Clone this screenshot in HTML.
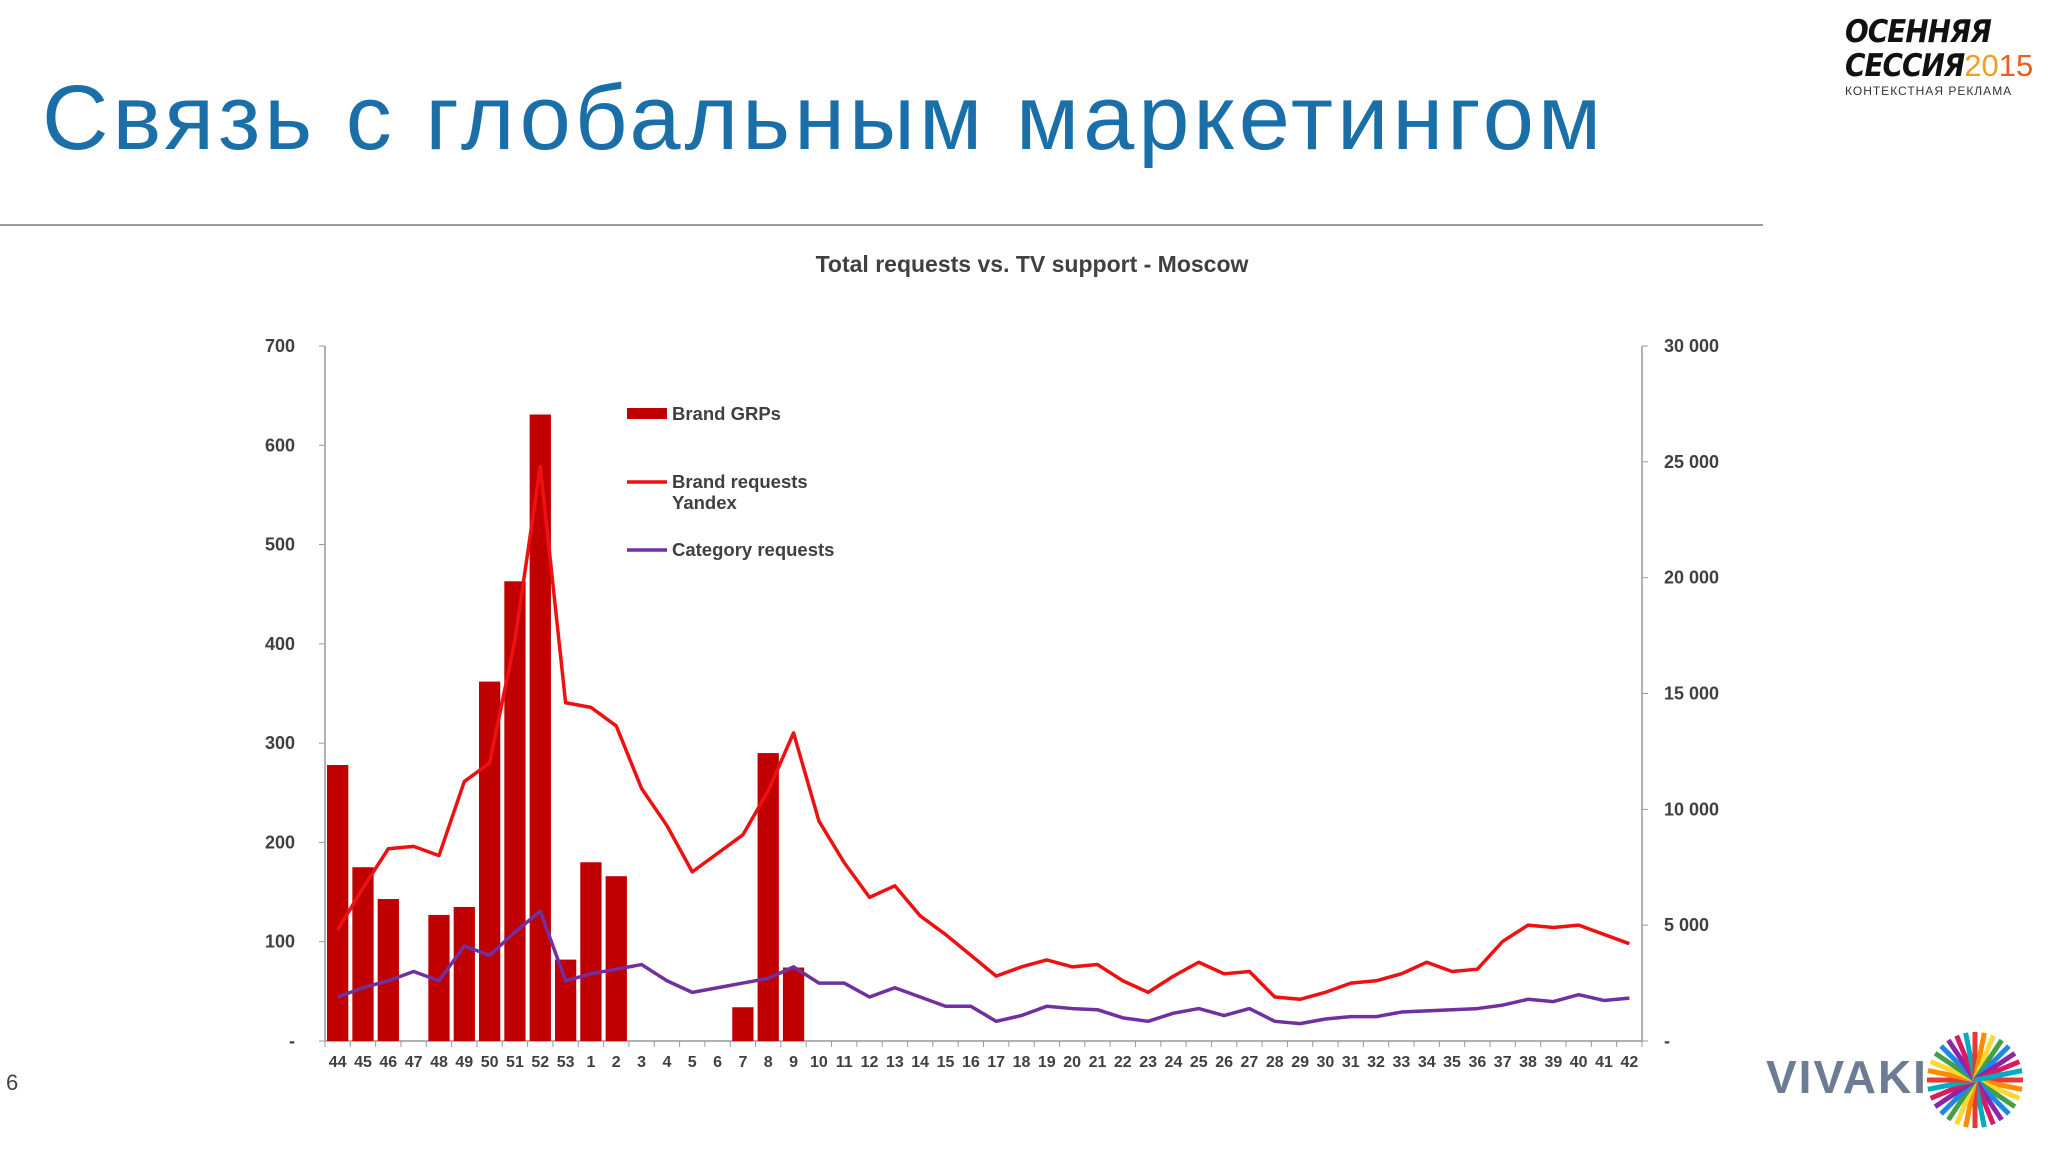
<!DOCTYPE html>
<html><head><meta charset="utf-8">
<style>
html,body{margin:0;padding:0;background:#fff;}
body{width:2048px;height:1152px;position:relative;overflow:hidden;font-family:"Liberation Sans","DejaVu Sans",sans-serif;}
#title{position:absolute;left:42px;top:66px;font-size:92px;color:#1b6fa8;letter-spacing:4px;white-space:nowrap;}
#rule{position:absolute;left:0;top:224px;width:1763px;height:2px;background:#9a9a9a;}
#logo{position:absolute;left:1845px;top:16px;}
.l1{font-family:"DejaVu Sans Condensed","Liberation Sans Narrow","Liberation Sans",sans-serif;font-style:italic;font-weight:bold;font-size:31px;line-height:33px;color:#111;letter-spacing:-1px;}
#pg{position:absolute;left:6px;top:1070px;font-size:22px;color:#444;}
#vivaki{position:absolute;left:1766px;top:1050px;font-size:46px;font-weight:bold;color:#6b7c93;letter-spacing:2px;}
</style></head>
<body>
<div id="title">Связь с глобальным маркетингом</div>
<div id="rule"></div>
<div id="logo">
 <div class="l1">ОСЕННЯЯ</div>
 <div class="l1">СЕССИЯ<span style="color:#f0a020;font-style:normal;font-weight:normal;font-family:'Liberation Sans',sans-serif;letter-spacing:0">20</span><span style="color:#e8601c;font-style:normal;font-weight:normal;font-family:'Liberation Sans',sans-serif;letter-spacing:0">15</span></div>
 <div style="font-size:12px;color:#333;letter-spacing:1px;margin-top:1px">КОНТЕКСТНАЯ РЕКЛАМА</div>
</div>
<div id="pg">6</div>
<div id="vivaki">VIVAKI</div>
<svg style="position:absolute;left:1920px;top:1025px" width="110" height="110">
 <g id="rays"></g>
</svg>
<svg id="chart" width="2048" height="1152" style="position:absolute;left:0;top:0"></svg>
<script>
const categories=["44","45","46","47","48","49","50","51","52","53","1","2","3","4","5","6","7","8","9","10","11","12","13","14","15","16","17","18","19","20","21","22","23","24","25","26","27","28","29","30","31","32","33","34","35","36","37","38","39","40","41","42"];
const grps=[278,175,143,0,127,135,362,463,631,82,180,166,0,0,0,0,34,290,74,0,0,0,0,0,0,0,0,0,0,0,0,0,0,0,0,0,0,0,0,0,0,0,0,0,0,0,0,0,0,0,0,0];
const brandReq=[4800,6600,8300,8400,8000,11200,12000,17300,24800,14600,14400,13600,10900,9300,7300,8100,8900,10800,13300,9500,7700,6200,6700,5400,4600,3700,2800,3200,3500,3200,3300,2600,2100,2800,3400,2900,3000,1900,1800,2100,2500,2600,2900,3400,3000,3100,4300,5000,4900,5000,4600,4200];
const catReq=[1900,2300,2600,3000,2600,4100,3700,4700,5600,2600,2900,3100,3300,2600,2100,2300,2500,2700,3200,2500,2500,1900,2300,1900,1500,1500,850,1100,1500,1400,1350,1000,850,1200,1400,1100,1400,850,750,950,1050,1050,1250,1300,1350,1400,1550,1800,1700,2000,1750,1850];
const leftTicks=[0,100,200,300,400,500,600,700];
const leftTickLabels=["-","100","200","300","400","500","600","700"];
const rightTicks=[0,5000,10000,15000,20000,25000,30000];
const rightTickLabels=["-","5 000","10 000","15 000","20 000","25 000","30 000"];

const svg=document.getElementById('chart');
const NS='http://www.w3.org/2000/svg';
const X0=325,X1=1642,Y0=1041,Y1=346;
const band=(X1-X0)/categories.length;
const xc=i=>X0+band*(i+0.5);
const yl=v=>Y0-(v/700)*(Y0-Y1);
const yr=v=>Y0-(v/30000)*(Y0-Y1);
function mk(tag,attrs,parent){const e=document.createElementNS(NS,tag);for(const k in attrs)e.setAttribute(k,attrs[k]);(parent||svg).appendChild(e);return e;}
const F='"Liberation Sans",sans-serif';

let t=mk('text',{x:1032,y:272,'text-anchor':'middle','font-family':F,'font-size':23,'font-weight':'bold',fill:'#404040'});
t.textContent='Total requests vs. TV support - Moscow';



let a=mk('line',{x1:X0,y1:Y1,x2:X0,y2:Y0,stroke:'#999','stroke-width':1.5});


a=mk('line',{x1:X1,y1:Y1,x2:X1,y2:Y0,stroke:'#999','stroke-width':1.5});


a=mk('line',{x1:X0,y1:Y0,x2:X1,y2:Y0,stroke:'#999','stroke-width':1.5});



leftTicks.forEach((v,i)=>{
 mk('line',{x1:X0-6,y1:yl(v),x2:X0,y2:yl(v),stroke:'#999'});
 const e=mk('text',{x:295,y:yl(v)+6,'text-anchor':'end','font-family':F,'font-size':18,'font-weight':'bold',fill:'#404040'});
 e.textContent=leftTickLabels[i];
 
 
});
rightTicks.forEach((v,i)=>{
 mk('line',{x1:X1,y1:yr(v),x2:X1+6,y2:yr(v),stroke:'#999'});
 const e=mk('text',{x:1664,y:yr(v)+6,'text-anchor':'start','font-family':F,'font-size':18,'font-weight':'bold',fill:'#404040'});
 e.textContent=rightTickLabels[i];
 
 
});
for(let i=0;i<=categories.length;i++){mk('line',{x1:X0+band*i,y1:Y0,x2:X0+band*i,y2:Y0+6,stroke:'#999'});}
categories.forEach((c,i)=>{
 const e=mk('text',{x:xc(i),y:1067,'text-anchor':'middle','font-family':F,'font-size':16,'font-weight':'bold',fill:'#404040'});
 e.textContent=c;
 
 
});
const bw=band*0.84;
grps.forEach((v,i)=>{
 if(v<=0)return;
 const r=mk('rect',{x:xc(i)-bw/2,y:yl(v),width:bw,height:Y0-yl(v),fill:'#c00000'});
 
 
});
function line(arr,color,name){
 const p=mk('polyline',{points:arr.map((v,i)=>xc(i)+','+yr(v)).join(' '),fill:'none',stroke:color,'stroke-width':3.5,'stroke-linejoin':'round'});
 
 
}
line(brandReq,'#ee1111','brand-requests-line');
line(catReq,'#7030a0','category-requests-line');

let g=mk('g',{});


mk('rect',{x:627,y:408,width:40,height:11,fill:'#c00000'},g);
let lt=mk('text',{x:672,y:420,'font-family':F,'font-size':18.5,'font-weight':'bold',fill:'#404040'},g);lt.textContent='Brand GRPs';
mk('line',{x1:627,y1:482,x2:667,y2:482,stroke:'#ee1111','stroke-width':3.5},g);
lt=mk('text',{x:672,y:488,'font-family':F,'font-size':18.5,'font-weight':'bold',fill:'#404040'},g);lt.textContent='Brand requests';
lt=mk('text',{x:672,y:509,'font-family':F,'font-size':18.5,'font-weight':'bold',fill:'#404040'},g);lt.textContent='Yandex';
mk('line',{x1:627,y1:550,x2:667,y2:550,stroke:'#7030a0','stroke-width':3.5},g);
lt=mk('text',{x:672,y:556,'font-family':F,'font-size':18.5,'font-weight':'bold',fill:'#404040'},g);lt.textContent='Category requests';

const rays=document.getElementById('rays');
const cols=['#e53935','#fb8c00','#fdd835','#43a047','#1e88e5','#8e24aa','#d81b60','#00acc1'];
for(let k=0;k<32;k++){const ang=k*Math.PI*2/32;mk('line',{x1:55,y1:55,x2:55+48*Math.cos(ang),y2:55+48*Math.sin(ang),stroke:cols[k%8],'stroke-width':5},rays);}
</script>
</body></html>
